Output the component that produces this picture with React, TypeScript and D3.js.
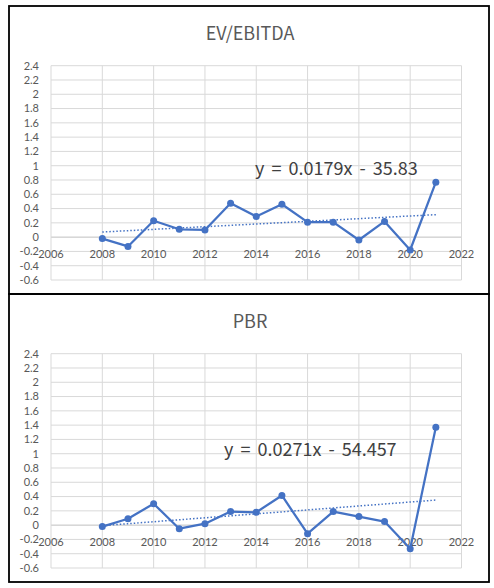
import React, { useRef, useEffect } from 'react';
import * as d3 from 'd3';

const years = [2008, 2009, 2010, 2011, 2012, 2013, 2014, 2015, 2016, 2017, 2018, 2019, 2020, 2021];
const evEbitda = [-0.02, -0.13, 0.23, 0.11, 0.1, 0.475, 0.29, 0.46, 0.21, 0.21, -0.04, 0.22, -0.18, 0.77];
const pbr = [-0.02, 0.09, 0.3, -0.05, 0.02, 0.19, 0.18, 0.415, -0.12, 0.19, 0.12, 0.05, -0.33, 1.37];
const xTicks = [2006, 2008, 2010, 2012, 2014, 2016, 2018, 2020, 2022];
const yTicks = [-0.6, -0.4, -0.2, 0, 0.2, 0.4, 0.6, 0.8, 1, 1.2, 1.4, 1.6, 1.8, 2, 2.2, 2.4];

const W = 494;
const H = 588;
const BLUE = '#4472C4';
const FONT = '"Noto Sans CJK KR", "Noto Sans", sans-serif';
const TICK_FONT = 'Lato, "Noto Sans", sans-serif';

type ChartDef = {
  title: string;
  values: number[];
  equation: string;
  top: number;
  bottom: number;
  eqX: number;
  eqY: number;
};

const charts: ChartDef[] = [
  { title: 'EV/EBITDA', values: evEbitda, equation: 'y = 0.0179x - 35.83', top: 6, bottom: 294, eqX: 255, eqY: 175 },
  { title: 'PBR', values: pbr, equation: 'y = 0.0271x - 54.457', top: 294, bottom: 582, eqX: 224, eqY: 456 },
];

const App: React.FC = () => {
  const ref = useRef<SVGSVGElement | null>(null);

  useEffect(() => {
    const svg = d3.select(ref.current);
    svg.selectAll('*').remove();

    svg.append('rect').attr('width', W).attr('height', H).attr('fill', '#fff');

    charts.forEach((c) => {
      const g = svg.append('g');
      const plotTop = c.top + 59.7;
      const plotBottom = plotTop + 214.3;

      const x = d3.scaleLinear().domain([2006, 2022]).range([51, 461.5]);
      const y = d3.scaleLinear().domain([-0.6, 2.4]).range([plotBottom, plotTop]);

      // outer box
      g.append('rect')
        .attr('x', 9)
        .attr('y', c.top)
        .attr('width', 480)
        .attr('height', c.bottom - c.top)
        .attr('fill', 'none')
        .attr('stroke', '#000')
        .attr('stroke-width', 1.8);

      g.append('text')
        .attr('x', 250)
        .attr('y', c.top + 34)
        .attr('text-anchor', 'middle')
        .style('font-family', FONT)
        .style('font-size', '18px')
        .attr('fill', '#595959')
        .text(c.title);

      // gridlines
      g.selectAll('.hg')
        .data(yTicks)
        .join('line')
        .attr('x1', x(2006))
        .attr('x2', x(2022))
        .attr('y1', (d) => y(d))
        .attr('y2', (d) => y(d))
        .attr('stroke', (d) => (d === 0 ? '#bfbfbf' : '#d9d9d9'))
        .attr('stroke-width', 1);

      g.selectAll('.vg')
        .data(xTicks)
        .join('line')
        .attr('x1', (d) => x(d))
        .attr('x2', (d) => x(d))
        .attr('y1', plotTop)
        .attr('y2', plotBottom)
        .attr('stroke', '#d9d9d9')
        .attr('stroke-width', 1);

      // y tick labels
      g.selectAll('.yl')
        .data(yTicks)
        .join('text')
        .attr('x', 39)
        .attr('y', (d) => y(d))
        .attr('dy', '0.35em')
        .attr('text-anchor', 'end')
        .style('font-family', TICK_FONT)
        .style('font-size', '11px')
        .attr('fill', '#595959')
        .text((d) => String(+d.toFixed(1)));

      // x tick labels near the zero line
      g.selectAll('.xl')
        .data(xTicks)
        .join('text')
        .attr('x', (d) => x(d))
        .attr('y', y(0) + 17)
        .attr('dy', '0.35em')
        .attr('text-anchor', 'middle')
        .style('font-family', TICK_FONT)
        .style('font-size', '11px')
        .attr('fill', '#595959')
        .text((d) => String(d));

      // linear trend from the data
      const mx = d3.mean(years)!;
      const my = d3.mean(c.values)!;
      const slope =
        d3.sum(years, (yr, i) => (yr - mx) * (c.values[i] - my)) / d3.sum(years, (yr) => (yr - mx) ** 2);
      const icpt = my - slope * mx;
      const x0 = years[0];
      const x1 = years[years.length - 1];
      g.append('line')
        .attr('x1', x(x0))
        .attr('x2', x(x1))
        .attr('y1', y(slope * x0 + icpt))
        .attr('y2', y(slope * x1 + icpt))
        .attr('stroke', BLUE)
        .attr('stroke-width', 1.5)
        .attr('stroke-dasharray', '1.5 2');

      const line = d3
        .line<number>()
        .x((_, i) => x(years[i]))
        .y((d) => y(d));

      g.append('path')
        .attr('d', line(c.values)!)
        .attr('fill', 'none')
        .attr('stroke', BLUE)
        .attr('stroke-width', 2.25)
        .attr('stroke-linejoin', 'round');

      g.selectAll('.pt')
        .data(c.values)
        .join('circle')
        .attr('cx', (_, i) => x(years[i]))
        .attr('cy', (d) => y(d))
        .attr('r', 3.5)
        .attr('fill', BLUE);

      g.append('text')
        .attr('x', c.eqX)
        .attr('y', c.eqY)
        .style('font-family', FONT)
        .style('font-size', '18px')
        .style('word-spacing', '3px')
        .attr('fill', '#404040')
        .text(c.equation);
    });
  }, []);

  return (
    <div style={{ position: 'absolute', left: 0, top: 0 }}>
      <svg ref={ref} width={W} height={H} style={{ display: 'block' }} />
    </div>
  );
};

export default App;
